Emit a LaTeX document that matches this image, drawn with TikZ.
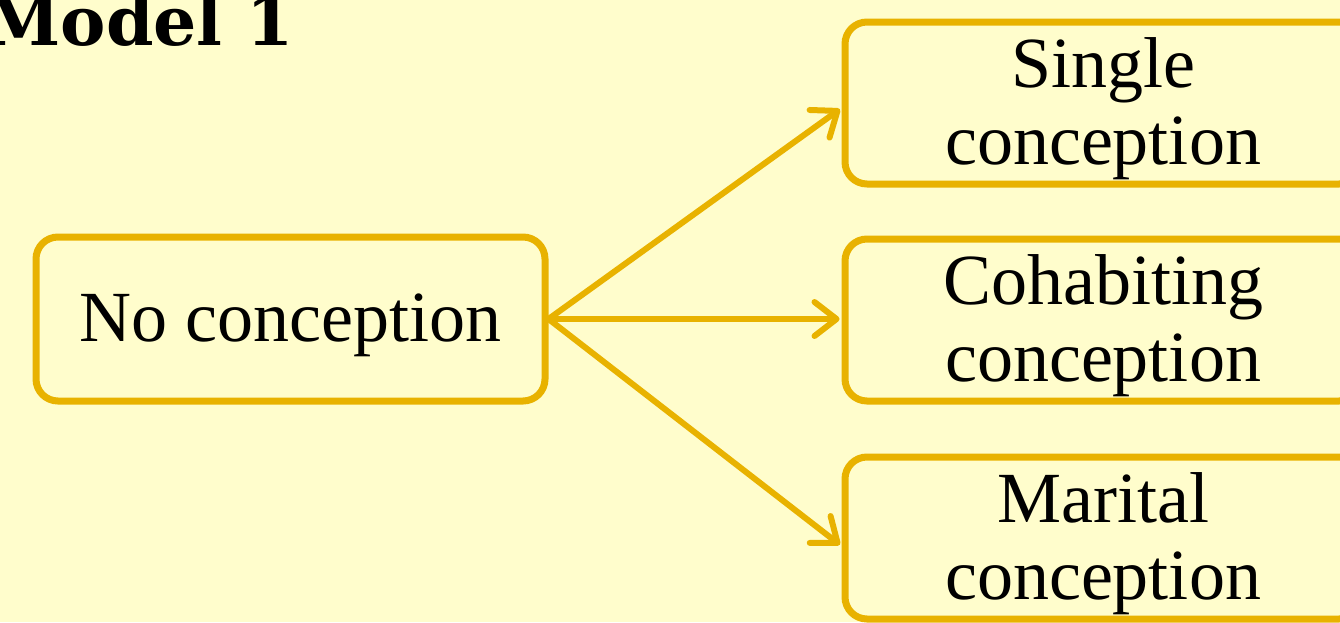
\documentclass[tikz,border=0pt]{standalone}
\usepackage{fontspec}
\setmainfont{Liberation Serif}
\newfontfamily\titlefont{DejaVu Serif}
\usetikzlibrary{arrows.meta}
\definecolor{bgyellow}{RGB}{255,253,204}
\definecolor{gold}{RGB}{232,178,0}
\newcommand\dnstrut{\rule{0pt}{61pt}}
\tikzset{
  statebox/.style={draw=gold, line width=7pt, rounded corners=22pt, fill=bgyellow,
    align=center, inner sep=0pt, font=\fontsize{72}{77}\selectfont, text=black},
  flow/.style={draw=gold, line width=6pt, line cap=round,
    -{Straight Barb[length=22pt,width=34pt,line cap=round,line join=round]}}
}
\begin{document}
\begin{tikzpicture}[x=1pt,y=-1pt]
\useasboundingbox (0,0) rectangle (1340,622);
\clip (0,0) rectangle (1340,622);
\fill[bgyellow] (0,0) rectangle (1340,622);
\node[anchor=base east, inner sep=0pt, font=\titlefont\bfseries\fontsize{68}{68}\selectfont] (title) at (294,45) {Model 1};
\node[statebox, minimum width=509pt, minimum height=164pt] (none) at (290.5,319) {\dnstrut No conception};
\node[statebox, minimum width=516pt, minimum height=162pt] (single) at (1103,103) {\dnstrut Single\\conception};
\node[statebox, minimum width=516pt, minimum height=162pt] (cohab) at (1103,320) {\dnstrut Cohabiting\\conception};
\node[statebox, minimum width=516pt, minimum height=162pt] (marital) at (1103,538) {\dnstrut Marital\\conception};
\draw[flow, shorten >=2pt] (none.east) -- ([yshift=-5pt]single.west);
\draw[flow, shorten >=2pt] (none.east) -- (cohab.west |- none.east);
\draw[flow, shorten >=2pt] (none.east) -- ([yshift=-8pt]marital.west);
\end{tikzpicture}
\end{document}
